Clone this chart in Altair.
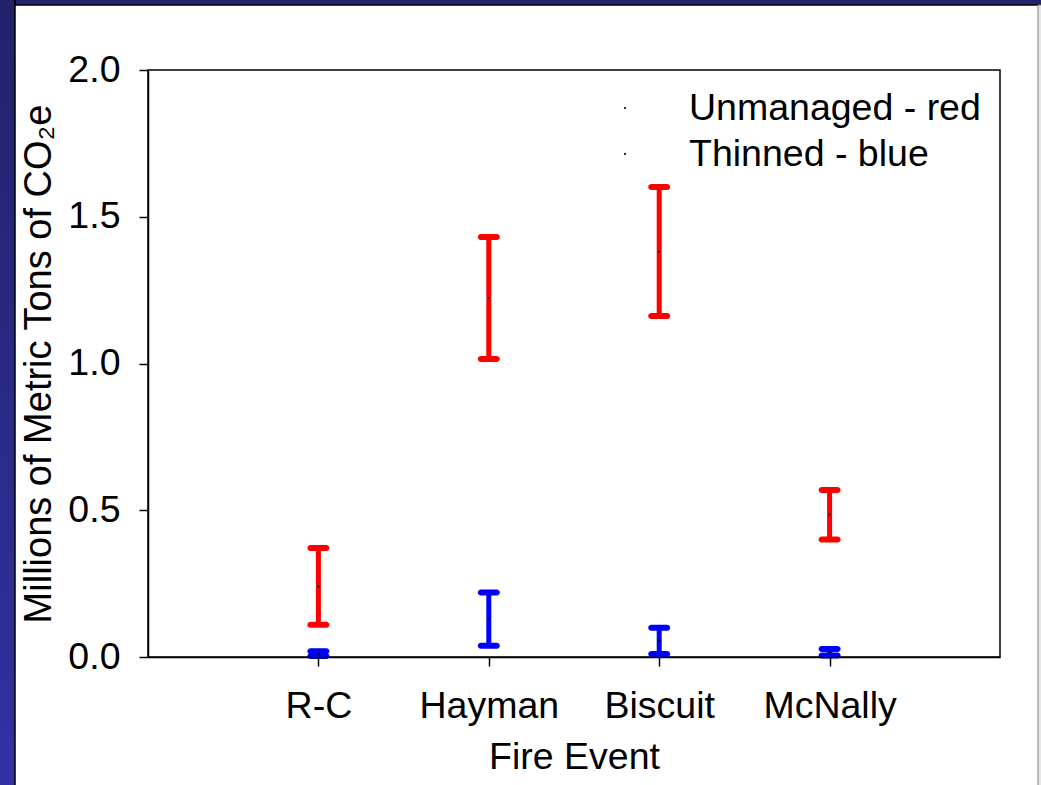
import altair as alt
import pandas as pd

# Fire events and the two forest-management series
events = ["R-C", "Hayman", "Biscuit", "McNally"]
series = ["Unmanaged - red", "Thinned - blue"]

# Emission ranges (millions of metric tons CO2e)
unmanaged_low = [0.110, 1.015, 1.162, 0.400]
unmanaged_high = [0.371, 1.431, 1.601, 0.569]
unmanaged_mean = [0.240, 1.223, 1.381, 0.485]
thinned_low = [0.003, 0.038, 0.010, 0.005]
thinned_high = [0.020, 0.220, 0.100, 0.027]
thinned_mean = [0.011, 0.129, 0.055, 0.016]

y_ticks = [0.0, 0.5, 1.0, 1.5, 2.0]
series_colors = ["#ff0000", "#0000ff"]

rows = []
for name, lows, highs, means in [
    (series[0], unmanaged_low, unmanaged_high, unmanaged_mean),
    (series[1], thinned_low, thinned_high, thinned_mean),
]:
    for ev, lo, hi, mu in zip(events, lows, highs, means):
        rows.append({"event": ev, "series": name, "low": lo, "high": hi, "mean": mu})
df = pd.DataFrame(rows)

# layout (plot area and outer padding in pixels)
W, H = 852, 587
PAD = {"left": 148, "top": 70, "right": 41, "bottom": 128}
FONT = "Liberation Sans"
FS = 37.5

x_enc = alt.X(
    "event:N",
    sort=events,
    scale=alt.Scale(type="point", padding=1, domain=events),
    axis=alt.Axis(
        title="Fire Event",
        labelAngle=0,
        labelFontSize=FS,
        titleFontSize=FS,
        titleFontWeight="normal",
        tickSize=9,
        tickWidth=1.5,
        tickColor="black",
        domainColor="black",
        domainWidth=1.5,
        labelPadding=21,
        titlePadding=14,
        labelColor="black",
        titleColor="black",
        zindex=1,
    ),
)

y_axis = alt.Axis(
    title="Millions of Metric Tons of CO₂e",
    values=y_ticks,
    format=".1f",
    grid=False,
    labelFontSize=FS,
    titleFontSize=38,
    titleFontWeight="normal",
    tickSize=9,
    tickWidth=1.5,
    tickColor="black",
    domainColor="black",
    domainWidth=1.5,
    labelPadding=19,
    titlePadding=9,
    labelColor="black",
    titleColor="black",
    zindex=1,
)
y_scale = alt.Scale(domain=[0, 2])
color_enc = alt.Color("series:N", scale=alt.Scale(domain=series, range=series_colors), legend=None)

base = alt.Chart(df)

whisker = base.mark_rule(strokeWidth=5, opacity=1).encode(
    x=x_enc,
    y=alt.Y("low:Q", scale=y_scale, axis=y_axis),
    y2="high:Q",
    color=color_enc,
)
cap_low = base.mark_tick(size=22, thickness=6, cornerRadius=3, opacity=1).encode(
    x=x_enc, y=alt.Y("low:Q", scale=y_scale, axis=y_axis), color=color_enc
)
cap_high = base.mark_tick(size=22, thickness=6, cornerRadius=3, opacity=1).encode(
    x=x_enc, y=alt.Y("high:Q", scale=y_scale, axis=y_axis), color=color_enc
)
mean_dot = base.mark_point(filled=True, color="black", size=5, opacity=1).encode(
    x=x_enc,
    y=alt.Y("mean:Q", scale=y_scale, axis=y_axis),
)

# key in the upper right: a small dot and a label per series
one = alt.Data(values=[{}])
key_layers = []
for i, name in enumerate(series):
    key_layers.append(
        alt.Chart(one).mark_point(filled=True, color="black", size=5, opacity=1).encode(
            x=alt.value(477), y=alt.value(38 + 46 * i)
        )
    )
    key_layers.append(
        alt.Chart(one).mark_text(
            text=name, fontSize=FS, font=FONT, color="black", align="left", baseline="alphabetic"
        ).encode(x=alt.value(541), y=alt.value(50 + 46 * i))
    )

# slide frame around the white panel
navy = alt.Gradient(
    gradient="linear",
    stops=[alt.GradientStop(color="#22226a", offset=0), alt.GradientStop(color="#3131a2", offset=1)],
    x1=0, x2=0, y1=0, y2=1,
)
left_strip = alt.Chart(one).mark_rect(color=navy, stroke="black", strokeWidth=1.5).encode(
    x=alt.value(-152), x2=alt.value(-PAD["left"] + 15),
    y=alt.value(-PAD["top"] - 4), y2=alt.value(H + PAD["bottom"] + 4),
)
top_strip = alt.Chart(one).mark_rect(color="#23236b", stroke="black", strokeWidth=1.5).encode(
    x=alt.value(-PAD["left"] + 15), x2=alt.value(W + PAD["right"] + 4),
    y=alt.value(-PAD["top"] - 4), y2=alt.value(-PAD["top"] + 5),
)
right_strip = alt.Chart(one).mark_rect(color="#e6e6e6", stroke="#808080", strokeWidth=1).encode(
    x=alt.value(W + PAD["right"] - 3), x2=alt.value(W + PAD["right"] + 4),
    y=alt.value(-PAD["top"] + 5), y2=alt.value(H + PAD["bottom"] + 4),
)

chart = (
    alt.layer(left_strip, top_strip, right_strip, whisker, cap_low, cap_high, mean_dot, *key_layers)
    .properties(width=W, height=H, padding=PAD, autosize=alt.AutoSizeParams(type="none"), background="white")
    .configure(font=FONT)
    .configure_view(stroke="black", strokeWidth=1.5)
)

chart.save("out.html", embed_options={"renderer": "svg", "actions": False})
